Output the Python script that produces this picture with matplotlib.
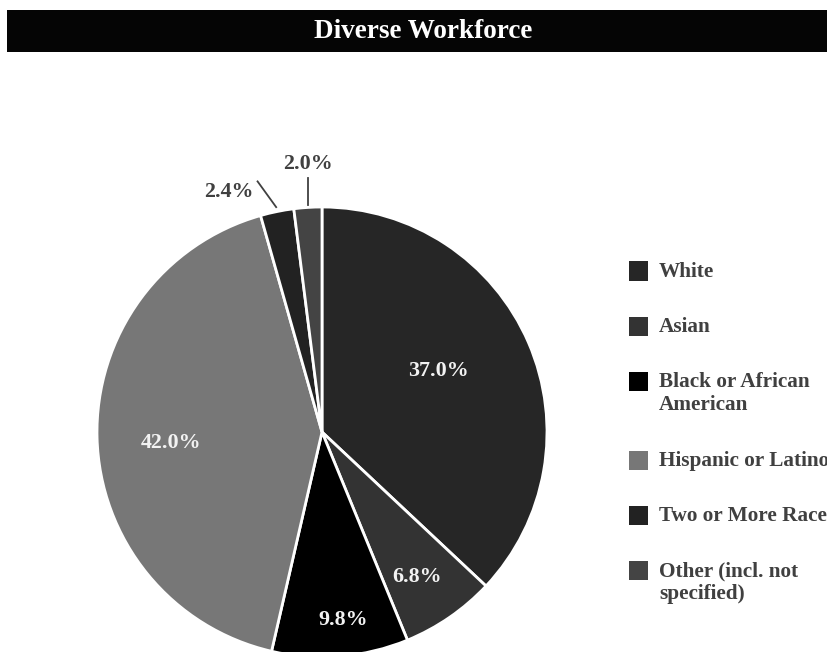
import numpy as np
import matplotlib
matplotlib.use('Agg')
import matplotlib.pyplot as plt
from matplotlib.patches import Rectangle

plt.rcParams['font.family'] = ['Liberation Serif', 'DejaVu Serif']
plt.rcParams['font.weight'] = 'bold'

title = "Diverse Workforce"
categories = ["White", "Asian", "Black or African\nAmerican", "Hispanic or Latino",
              "Two or More Races", "Other (incl. not\nspecified)"]
shares = [37.0, 6.8, 9.8, 42.0, 2.4, 2.0]
colors = ["#262626", "#333333", "#000000", "#777777", "#222222", "#444444"]

# label placement per slice: radius fraction and angle nudge (deg, math sense)
label_r = [0.59, 0.76, 0.83, 0.67, 1.12, 1.15]
label_dt = [5.5, -0.8, 1.8, 1.6, 4.3, 0.0]
inside = [True, True, True, True, False, False]

W, H = 827, 652
fig = plt.figure(figsize=(W / 100, H / 100), dpi=100)

# title bar
fig.patches.append(Rectangle((7 / W, 1 - 52 / H), 1.0, 42 / H, transform=fig.transFigure,
                             facecolor="#050505", edgecolor="none", zorder=0))
fig.text(423.5 / W, 1 - 31 / H, title, color="white", fontsize=19.5, fontweight="bold",
         ha="center", va="center")

# pie axes: center (322, 432), radius 225 px
cx, cy, R = 322, 432, 225
ax = fig.add_axes([(cx - R) / W, (H - cy - R) / H, 2 * R / W, 2 * R / H])
wedges, _ = ax.pie(shares, colors=colors, startangle=90, counterclock=False, radius=1,
                   wedgeprops=dict(edgecolor="white", linewidth=2))
ax.set_xlim(-1, 1)
ax.set_ylim(-1, 1)
ax.axis("off")

cum = np.cumsum([0] + shares[:-1])
for i, s in enumerate(shares):
    mid = 90 - 360 * (cum[i] + s / 2) / 100
    t = np.deg2rad(mid)
    tl = np.deg2rad(mid + label_dt[i])
    r = label_r[i]
    txt = "%.1f%%" % s
    if inside[i]:
        ax.text(r * np.cos(tl), r * np.sin(tl) - 0.012, txt, color="#f2f2f2", fontsize=15.8,
                fontweight="bold", ha="center", va="center")
    elif i == 4:
        te = t + np.deg2rad(2.9)
        ax.plot([1.02 * np.cos(t), 1.15 * np.cos(te)], [1.02 * np.sin(t), 1.15 * np.sin(te)],
                color="#404040", lw=1.3, clip_on=False)
        ax.text(r * np.cos(tl), r * np.sin(tl) - 0.012, txt, color="#404040", fontsize=15.8,
                fontweight="bold", ha="right", va="center")
    else:
        x0 = 1.01 * np.cos(t)
        ax.plot([x0, x0], [1.01 * np.sin(t), 1.13 * np.sin(t)], color="#404040", lw=1.3,
                clip_on=False)
        ax.text(x0, r * np.sin(t), txt, color="#404040", fontsize=15.8,
                fontweight="bold", ha="center", va="bottom")

# legend: square handle aligned with the first line of each label
y = 271
for lab, col in zip(categories, colors):
    fig.patches.append(Rectangle((629 / W, 1 - (y + 9.5) / H), 19 / W, 19 / H,
                                 transform=fig.transFigure, facecolor=col, edgecolor="none"))
    fig.text(659 / W, 1 - (y - 9) / H, lab, color="#404040", fontsize=15.3,
             fontweight="bold", ha="left", va="top", linespacing=1.22)
    y += 55 + 24 * lab.count("\n")

fig.savefig("out.png", dpi=100)
